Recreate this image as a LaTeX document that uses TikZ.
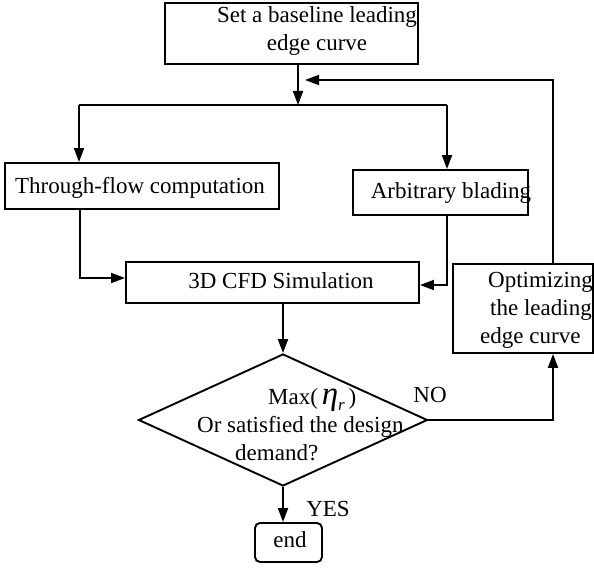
\documentclass[tikz,border=0pt]{standalone}
\usepackage{fontspec}
\setmainfont{Liberation Serif}
\usetikzlibrary{arrows.meta,shapes.geometric}
\newcommand{\chartfont}{\fontsize{23}{28}\selectfont}
\newcommand{\etar}{{\fontsize{33}{33}\selectfont\itshape η}\raisebox{-6pt}{\fontsize{17}{17}\selectfont\itshape r}}
\tikzset{
  box/.style={draw, line width=1.9pt, inner sep=0pt},
  label text/.style={inner sep=0pt, font=\chartfont},
  flow/.style={line width=1.9pt, -{Triangle[length=14pt,width=10pt]}},
  plain/.style={line width=1.9pt},
}
\begin{document}
\begin{tikzpicture}[x=1pt, y=-1pt]
\useasboundingbox (0,0) rectangle (594,569);

% boxes
\node[box, minimum width=253pt, minimum height=61pt] (top) at (291.5,33.5) {};
\node[box, minimum width=274pt, minimum height=46pt] (tf)  at (142,186) {};
\node[box, minimum width=175pt, minimum height=45pt] (ab)  at (440.5,192.5) {};
\node[box, minimum width=293pt, minimum height=41pt] (cfd) at (272.5,282.5) {};
\node[box, minimum width=140pt, minimum height=89pt] (opt) at (523,308.5) {};
\node[box, diamond, minimum width=289pt, minimum height=132pt] (dec) at (283,420) {};
\node[box, rounded corners=5pt, minimum width=67pt, minimum height=39pt] (end) at (288.5,542.5) {};

% texts
\node[label text, align=center] (toptext) at (317,31) {Set a baseline leading\\edge curve};
\node[label text] (tftext) at (140,188) {Through-flow computation};
\node[label text] (abtext) at (451,193) {Arbitrary blading};
\node[label text] (cfdtext) at (281,281) {3D CFD Simulation};
\node[label text, align=left, anchor=west] (opttext) at (480,310)
  {\hspace*{8pt}Optimizing\\\hspace*{10pt}the leading\\edge curve};
\node[label text, align=left, anchor=west] (dectext) at (197,425)
  {\hspace*{71pt}Max(\,\etar\,)\\Or satisfied the design\\\hspace*{38pt}demand?};
\node[label text] (endtext) at (290,540) {end};
\node[label text] (no)  at (430,395) {NO};
\node[label text] (yes) at (328,509) {YES};

% junction points
\coordinate (split)  at (298,105);
\coordinate (splitL) at (79,105);
\coordinate (splitR) at (447,105);
\coordinate (fbc)    at (553,80);
\coordinate (fbend)  at (305,80);
\coordinate (tfx)    at (80,278);
\coordinate (abx)    at (447,285);

% connectors
\draw[flow] (top.south -| split) -- (split);
\draw[plain] (splitL) -- (splitR);
\draw[flow] (splitL) -- (splitL |- tf.north);
\draw[flow] (splitR) -- (splitR |- ab.north);
\draw[flow] (tf.south -| tfx) -- (tfx) -- (tfx -| cfd.west);
\draw[flow] (ab.south -| abx) -- (abx) -- (abx -| cfd.east);
\draw[flow] (cfd.south -| dec.north) -- (dec.north);
\draw[flow] (dec.south) -- (dec.south |- end.north);
\draw[flow] (dec.east) -- (dec.east -| fbc) -- (opt.south -| fbc);
\draw[flow] (opt.north -| fbc) -- (fbc) -- (fbend);
\end{tikzpicture}
\end{document}
